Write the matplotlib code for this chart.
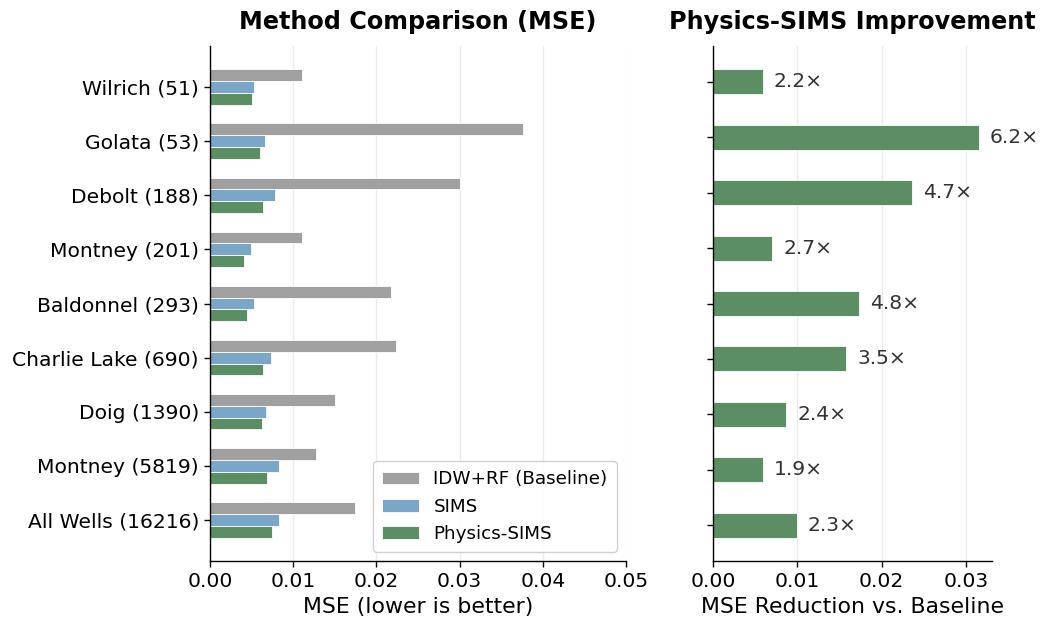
import numpy as np
import matplotlib.pyplot as plt

# data
regions = ['Wilrich (51)', 'Golata (53)', 'Debolt (188)', 'Montney (201)',
           'Baldonnel (293)', 'Charlie Lake (690)', 'Doig (1390)',
           'Montney (5819)', 'All Wells (16216)']
mse_baseline = [0.0110, 0.0376, 0.0300, 0.0110, 0.0218, 0.0223, 0.0150, 0.0127, 0.0174]
mse_sims = [0.0053, 0.0066, 0.0078, 0.0049, 0.0053, 0.0073, 0.0067, 0.0083, 0.0083]
mse_physics = [0.0051, 0.0060, 0.0064, 0.0041, 0.0045, 0.0064, 0.0063, 0.0068, 0.0075]
mse_reduction = [0.0059, 0.0315, 0.0236, 0.0070, 0.0173, 0.0158, 0.0087, 0.0059, 0.0099]
improvement = [2.2, 6.2, 4.7, 2.7, 4.8, 3.5, 2.4, 1.9, 2.3]

c_base = '#a0a0a0'
c_sims = '#7aa6c8'
c_phys = '#5b8f63'

plt.rcParams['axes.linewidth'] = 1.0
plt.rcParams['xtick.major.width'] = 1.0
plt.rcParams['ytick.major.width'] = 1.0
plt.rcParams['xtick.major.size'] = 4.5
plt.rcParams['ytick.major.size'] = 4.5

fig = plt.figure(figsize=(10.44, 6.26), dpi=100)
ax1 = fig.add_axes([210 / 1044, 1 - 561 / 626, 416 / 1044, 515 / 626])
ax2 = fig.add_axes([713 / 1044, 1 - 561 / 626, 279 / 1044, 515 / 626])

y = np.arange(len(regions))
h = 0.22
ax1.barh(y - h, mse_baseline, height=h, color=c_base, edgecolor='white', linewidth=0.6, label='IDW+RF (Baseline)')
ax1.barh(y, mse_sims, height=h, color=c_sims, edgecolor='white', linewidth=0.6, label='SIMS')
ax1.barh(y + h, mse_physics, height=h, color=c_phys, edgecolor='white', linewidth=0.6, label='Physics-SIMS')
ax1.set_yticks(y)
ax1.set_yticklabels(regions, fontsize=14.6)
ax1.invert_yaxis()
ax1.set_xlim(0, 0.05)
ax1.set_xlabel('MSE (lower is better)', fontsize=15.8)
ax1.set_title('Method Comparison (MSE)', fontsize=17.2, fontweight='bold', pad=12)
ax1.legend(loc='lower right', fontsize=13.2, framealpha=0.9, borderpad=0.5)
ax1.grid(axis='x', color='#ebebeb', linewidth=1.0)
ax1.set_axisbelow(True)
ax1.tick_params(axis='x', labelsize=14.6)

bars = ax2.barh(y, mse_reduction, height=0.45, color=c_phys, edgecolor='white', linewidth=0.6)
for b, r in zip(bars, improvement):
    ax2.text(b.get_width() + 0.0013, b.get_y() + b.get_height() / 2, f'{r:.1f}\u00d7',
             va='center', ha='left', fontsize=14.6, color='#333333')
ax2.set_yticks(y)
ax2.set_yticklabels([])
ax2.invert_yaxis()
ax2.set_xticks([0, 0.01, 0.02, 0.03])
ax2.set_xlabel('MSE Reduction vs. Baseline', fontsize=15.8)
ax2.set_title('Physics-SIMS Improvement', fontsize=17.2, fontweight='bold', pad=12)
ax2.grid(axis='x', color='#ebebeb', linewidth=1.0)
ax2.set_axisbelow(True)
ax2.tick_params(axis='x', labelsize=14.6)

for ax in (ax1, ax2):
    ax.spines['top'].set_visible(False)
    ax.spines['right'].set_visible(False)

fig.savefig('out.png', dpi=100)
